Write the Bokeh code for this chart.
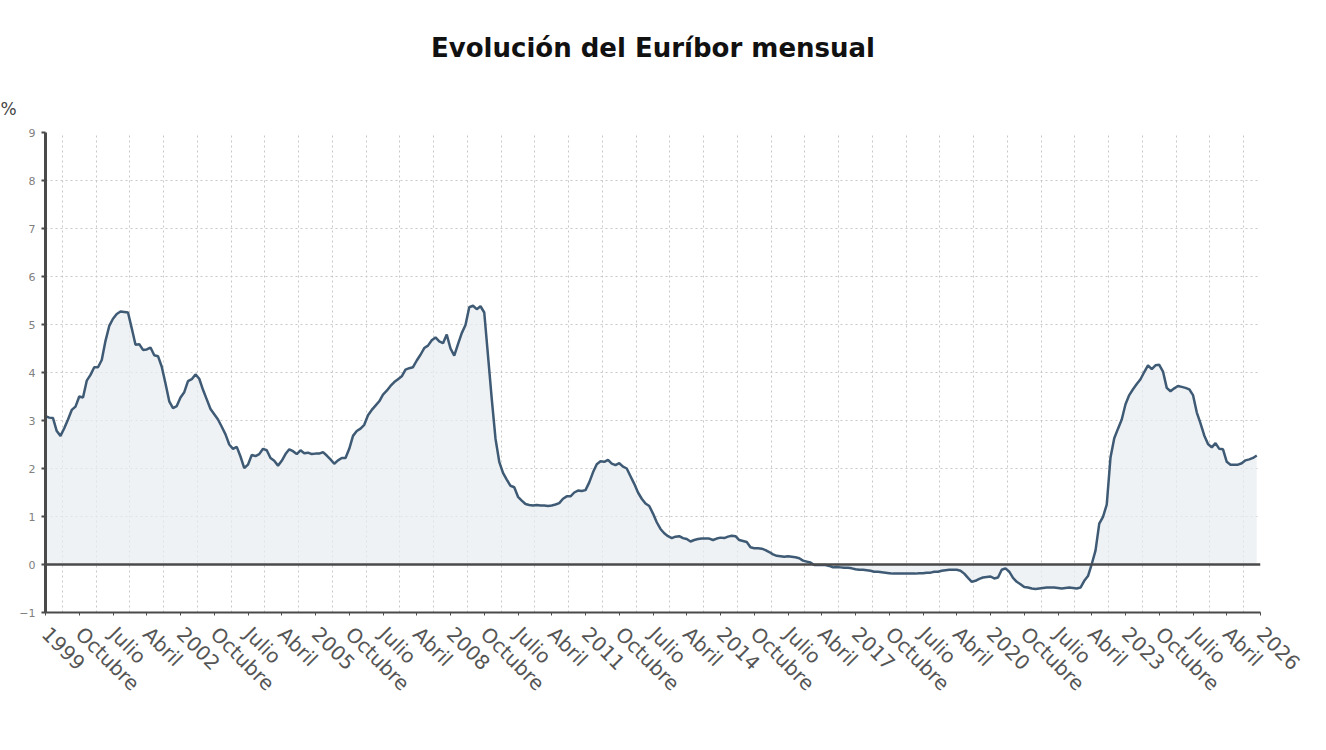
import numpy as np
from bokeh.plotting import figure
from bokeh.models import ColumnDataSource, FixedTicker, Span, Title, Range1d
from bokeh.embed import file_html
from bokeh.resources import INLINE

# Monthly 12-month Euribor (%), Jan 1999 .. Dec 2025
y1999 = [3.09, 3.06, 3.05, 2.78, 2.68, 2.84, 3.02, 3.22, 3.29, 3.50, 3.48, 3.83]
y2000 = [3.95, 4.11, 4.11, 4.26, 4.66, 4.97, 5.12, 5.22, 5.27, 5.26, 5.25, 4.92]
y2001 = [4.58, 4.59, 4.47, 4.48, 4.52, 4.36, 4.34, 4.12, 3.77, 3.40, 3.26, 3.30]
y2002 = [3.48, 3.59, 3.82, 3.86, 3.96, 3.87, 3.64, 3.44, 3.24, 3.13, 3.02, 2.87]
y2003 = [2.71, 2.50, 2.41, 2.45, 2.25, 2.01, 2.08, 2.28, 2.26, 2.30, 2.41, 2.38]
y2004 = [2.22, 2.16, 2.06, 2.16, 2.30, 2.40, 2.36, 2.30, 2.38, 2.32, 2.33, 2.30]
y2005 = [2.31, 2.31, 2.34, 2.27, 2.19, 2.10, 2.17, 2.22, 2.22, 2.41, 2.68, 2.78]
y2006 = [2.83, 2.91, 3.11, 3.22, 3.31, 3.40, 3.54, 3.62, 3.72, 3.80, 3.86, 3.92]
y2007 = [4.06, 4.09, 4.11, 4.25, 4.37, 4.51, 4.56, 4.67, 4.73, 4.65, 4.61, 4.79]
y2008 = [4.50, 4.35, 4.59, 4.82, 4.99, 5.36, 5.39, 5.32, 5.38, 5.25, 4.35, 3.45]
y2009 = [2.62, 2.14, 1.91, 1.77, 1.64, 1.61, 1.41, 1.33, 1.26, 1.24, 1.23, 1.24]
y2010 = [1.23, 1.23, 1.22, 1.23, 1.25, 1.28, 1.37, 1.42, 1.42, 1.50, 1.54, 1.53]
y2011 = [1.55, 1.71, 1.92, 2.09, 2.15, 2.14, 2.18, 2.10, 2.07, 2.11, 2.04, 2.00]
y2012 = [1.84, 1.68, 1.50, 1.37, 1.27, 1.22, 1.06, 0.88, 0.74, 0.65, 0.59, 0.55]
y2013 = [0.58, 0.59, 0.55, 0.53, 0.48, 0.51, 0.53, 0.54, 0.54, 0.54, 0.51, 0.54]
y2014 = [0.56, 0.55, 0.58, 0.60, 0.59, 0.51, 0.49, 0.47, 0.36, 0.34, 0.34, 0.33]
y2015 = [0.30, 0.26, 0.21, 0.18, 0.17, 0.16, 0.17, 0.16, 0.15, 0.13, 0.08, 0.06]
y2016 = [0.04, -0.01, -0.01, -0.01, -0.01, -0.03, -0.06, -0.05, -0.06, -0.07, -0.07, -0.08]
y2017 = [-0.10, -0.11, -0.11, -0.12, -0.13, -0.15, -0.15, -0.16, -0.17, -0.18, -0.19, -0.19]
y2018 = [-0.19, -0.19, -0.19, -0.19, -0.19, -0.18, -0.18, -0.17, -0.17, -0.15, -0.15, -0.13]
y2019 = [-0.12, -0.11, -0.11, -0.11, -0.13, -0.19, -0.28, -0.36, -0.34, -0.30, -0.27, -0.26]
y2020 = [-0.25, -0.29, -0.27, -0.11, -0.08, -0.15, -0.28, -0.36, -0.41, -0.47, -0.48, -0.50]
y2021 = [-0.51, -0.50, -0.49, -0.48, -0.48, -0.48, -0.49, -0.50, -0.49, -0.48, -0.49, -0.50]
y2022 = [-0.48, -0.34, -0.24, 0.01, 0.29, 0.85, 0.99, 1.25, 2.23, 2.63, 2.83, 3.02]
y2023 = [3.34, 3.53, 3.65, 3.76, 3.86, 4.01, 4.15, 4.07, 4.15, 4.16, 4.02, 3.68]
y2024 = [3.61, 3.67, 3.72, 3.70, 3.68, 3.65, 3.53, 3.17, 2.94, 2.69, 2.51, 2.44]
y2025 = [2.53, 2.41, 2.40, 2.14, 2.08, 2.08, 2.08, 2.11, 2.17, 2.19, 2.22, 2.27]

values = (y1999 + y2000 + y2001 + y2002 + y2003 + y2004 + y2005 + y2006 + y2007
          + y2008 + y2009 + y2010 + y2011 + y2012 + y2013 + y2014 + y2015 + y2016
          + y2017 + y2018 + y2019 + y2020 + y2021 + y2022 + y2023 + y2024 + y2025)
months = list(range(len(values)))  # months since Jan 1999

# x tick every 9 months
tick_labels = ["1999", "Octubre", "Julio", "Abril",
               "2002", "Octubre", "Julio", "Abril",
               "2005", "Octubre", "Julio", "Abril",
               "2008", "Octubre", "Julio", "Abril",
               "2011", "Octubre", "Julio", "Abril",
               "2014", "Octubre", "Julio", "Abril",
               "2017", "Octubre", "Julio", "Abril",
               "2020", "Octubre", "Julio", "Abril",
               "2023", "Octubre", "Julio", "Abril",
               "2026"]
tick_step = 9
y_ticks = [-1, 0, 1, 2, 3, 4, 5, 6, 7, 8, 9]

ticks = [i * tick_step for i in range(len(tick_labels))]
grid_ticks = [t + tick_step / 2 for t in ticks[:-1]]

src = ColumnDataSource(dict(x=months, y=values, zero=[0] * len(values)))

p = figure(width=1326, height=750, output_backend="svg", toolbar_location=None,
           x_range=Range1d(0, ticks[-1]), y_range=Range1d(-1, 9),
           min_border_left=45, min_border_right=66, min_border_top=132,
           min_border_bottom=138, background_fill_color="white",
           border_fill_color="white", outline_line_color=None)

p.title.text = "Evolución del Euríbor mensual"
p.title.align = "center"
p.title.text_font = "DejaVu Sans"
p.title.text_font_size = "26px"
p.title.text_font_style = "bold"
p.title.text_color = "#111111"
p.title.offset = 10
p.title.standoff = 41

unit = Title(text="%", align="left", offset=-45, standoff=27,
             text_font="DejaVu Sans", text_font_size="17px",
             text_font_style="normal", text_color="#444444")
p.add_layout(unit, "above")

p.varea(x="x", y1="zero", y2="y", source=src, fill_color="#e9edf2", fill_alpha=0.75)
p.line(x="x", y="y", source=src, line_color="#3e5a74", line_width=2.5)

p.add_layout(Span(location=0, dimension="width", line_color="#4a4a4a", line_width=2.5))

# axes
p.xaxis.ticker = FixedTicker(ticks=ticks)
p.xaxis.major_label_overrides = {t: lab for t, lab in zip(ticks, tick_labels)}
p.xaxis.major_label_orientation = -np.pi / 4
p.xaxis.major_label_text_font = "DejaVu Sans"
p.xaxis.major_label_text_font_size = "20px"
p.xaxis.major_label_text_color = "#555555"
p.xaxis.axis_line_color = "#4a4a4a"
p.xaxis.axis_line_width = 2
p.xaxis.major_tick_line_color = "#4a4a4a"
p.xaxis.major_tick_in = 0
p.xaxis.major_tick_out = 3
p.xaxis.minor_tick_line_color = None
p.xaxis.major_label_standoff = 15

p.yaxis.ticker = FixedTicker(ticks=y_ticks)
p.yaxis.major_label_text_font = "DejaVu Sans"
p.yaxis.major_label_text_font_size = "11px"
p.yaxis.major_label_text_color = "#808080"
p.yaxis.axis_line_color = "#4a4a4a"
p.yaxis.axis_line_width = 3
p.yaxis.major_tick_line_color = "#4a4a4a"
p.yaxis.major_tick_line_width = 2
p.yaxis.major_tick_in = 0
p.yaxis.major_tick_out = 4
p.yaxis.minor_tick_line_color = None
p.yaxis.major_label_standoff = 6

p.xgrid.ticker = FixedTicker(ticks=grid_ticks)
p.xgrid.grid_line_color = "#c8c8c8"
p.xgrid.grid_line_dash = "2 3"
p.ygrid.grid_line_color = "#c8c8c8"
p.ygrid.grid_line_dash = "2 3"

open("out.html", "w").write(file_html(p, INLINE))
